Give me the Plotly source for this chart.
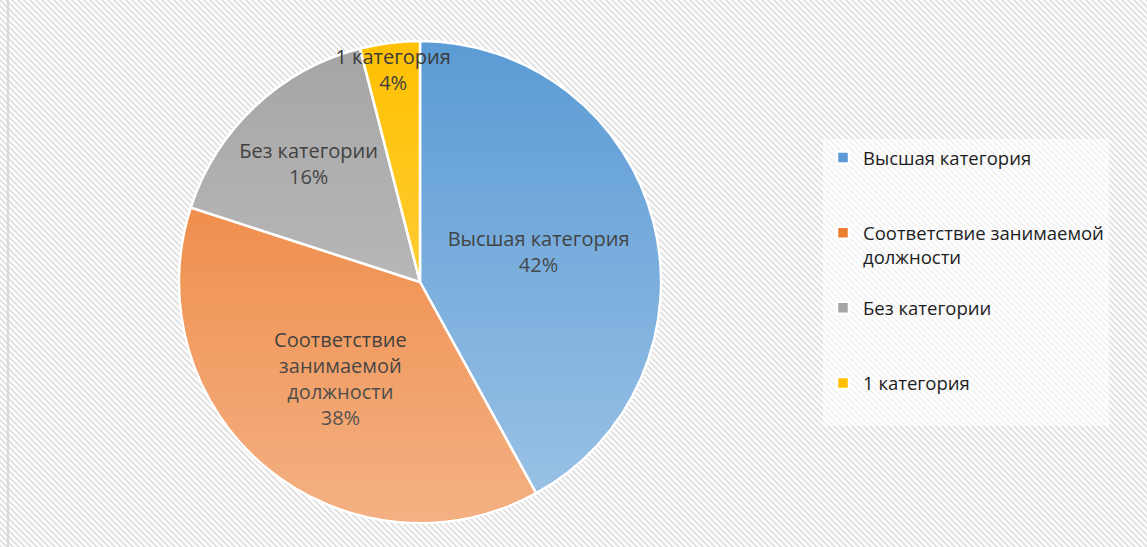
import base64
import plotly.graph_objects as go

# ---- data ----
categories = ["Высшая категория", "Соответствие занимаемой должности", "Без категории", "1 категория"]
values = [42, 38, 16, 4]

# ---- styling ----
W, H = 1147, 547
FONT = "Open Sans, Noto Sans, sans-serif"
base_colors = ["#5B9BD5", "#ED7D31", "#A5A5A5", "#FFC000"]
# slice labels (wrapped like the reference)
slice_text = ["Высшая категория", "Соответствие<br>занимаемой<br>должности", "Без категории", "1 категория"]
# legend labels: wrap long one, pad each entry to equal height (last one less)
legend_wrap = {"Соответствие занимаемой должности": "Соответствие занимаемой<br>должности"}
legend_labels = []
for i, c in enumerate(categories):
    t = legend_wrap.get(c, c)
    n = t.count("<br>") + 1
    target = 3 if i < len(categories) - 1 else 2
    legend_labels.append(t + "<br>&nbsp;" * max(0, target - n))
# text colours pre-darkened to compensate the gradient overlay
text_colors = ["#1c1c1c", "#000000", "#2E2E2E", "#393939"]

# pie placement (pixels)
cx, cy, r = 420, 282, 241
dom_x = [(cx - r) / W, (cx + r) / W]
dom_y = [(H - (cy + r)) / H, (H - (cy - r)) / H]

bg_svg = f'''<svg xmlns="http://www.w3.org/2000/svg" width="{W}" height="{H}" viewBox="0 0 {W} {H}">
<defs><pattern id="h" width="6" height="6" patternUnits="userSpaceOnUse">
<rect width="6" height="6" fill="#ffffff"/>
<path d="M0,0L6,6M-1,5L1,7M5,-1L7,1" stroke="#e2e2e2" stroke-width="2"/>
</pattern></defs>
<rect width="{W}" height="{H}" fill="url(#h)"/>
<line x1="8" y1="0" x2="8" y2="{H}" stroke="#d9d9d9" stroke-width="2"/>
</svg>'''

grad_svg = '''<svg xmlns="http://www.w3.org/2000/svg" width="100" height="100" viewBox="0 0 100 100" preserveAspectRatio="none">
<defs><linearGradient id="g" x1="0" y1="0" x2="0" y2="1">
<stop offset="0" stop-color="#ffffff" stop-opacity="0"/>
<stop offset="1" stop-color="#ffffff" stop-opacity="0.4"/>
</linearGradient></defs>
<circle cx="50" cy="50" r="49.7" fill="url(#g)"/>
</svg>'''


def uri(s):
    return "data:image/svg+xml;base64," + base64.b64encode(s.encode("utf-8")).decode()


fig = go.Figure(
    go.Pie(
        labels=legend_labels,
        values=values,
        text=slice_text,
        texttemplate="%{text}<br>%{percent:.0%}",
        textposition="inside",
        insidetextorientation="horizontal",
        sort=False,
        direction="clockwise",
        rotation=0,
        marker=dict(colors=base_colors, line=dict(color="#ffffff", width=2.5)),
        textfont=dict(family=FONT, size=20, color=text_colors),
        domain=dict(x=dom_x, y=dom_y),
        hoverinfo="label+percent",
    )
)

fig.update_layout(
    width=W,
    height=H,
    autosize=False,
    margin=dict(l=0, r=0, t=0, b=0),
    paper_bgcolor="#ffffff",
    plot_bgcolor="#ffffff",
    uniformtext=dict(minsize=20, mode="show"),
    images=[
        dict(source=uri(bg_svg), xref="paper", yref="paper", x=0, y=1, sizex=1, sizey=1,
             sizing="stretch", xanchor="left", yanchor="top", layer="below"),
        dict(source=uri(grad_svg), xref="paper", yref="paper", x=dom_x[0], y=dom_y[1],
             sizex=dom_x[1] - dom_x[0], sizey=dom_y[1] - dom_y[0],
             sizing="stretch", xanchor="left", yanchor="top", layer="above"),
    ],
    legend=dict(
        x=823 / W, y=1 - 139 / H, xanchor="left", yanchor="top",
        bgcolor="rgba(255,255,255,0.6)",
        font=dict(family=FONT, size=18.5, color="#1e1e1e"),
        valign="top",
        traceorder="normal",
    ),
)

fig.write_html("out.html", config={"displayModeBar": False},
               post_script="document.body.style.margin='0';")
